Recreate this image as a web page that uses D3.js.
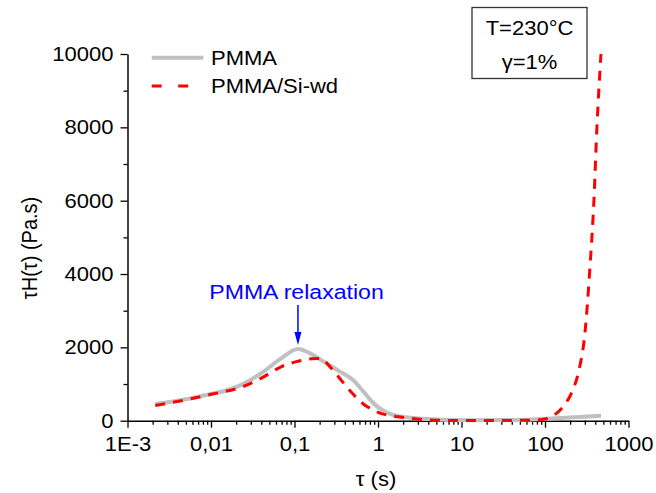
<!DOCTYPE html>
<html><head><meta charset="utf-8">
<script src="https://cdn.jsdelivr.net/npm/d3@7"></script>
<style>body{margin:0;background:#fff}svg text{font-family:"Liberation Sans",Arial,sans-serif}</style>
</head><body><svg id="c" width="656" height="493"></svg>
<script>
// ---- data ----
const xTicks = [0.001, 0.01, 0.1, 1, 10, 100, 1000];
const xTickLabels = ["1E-3", "0,01", "0,1", "1", "10", "100", "1000"];
const yTicks = [0, 2000, 4000, 6000, 8000, 10000];
const yMinorTicks = [1000, 3000, 5000, 7000, 9000];
const seriesNames = ["PMMA", "PMMA/Si-wd"];
const pmmaTau = [0.00215, 0.005, 0.01, 0.017, 0.023, 0.04, 0.07, 0.11, 0.15, 0.2, 0.35, 0.51, 0.67, 0.88, 1.16, 1.53, 2.2, 3.8, 7, 15, 30, 60, 100, 200, 470];
const pmmaVal = [455, 585, 730, 858, 976, 1296, 1706, 1953, 1850, 1680, 1340, 1094, 793, 476, 274, 156, 93, 46, 22, 15, 18, 28, 46, 90, 137];
const siTau = [0.00215, 0.005, 0.01, 0.023, 0.04, 0.07, 0.11, 0.16, 0.21, 0.254, 0.305, 0.42, 0.484, 0.667, 0.84, 1.39, 1.75, 3.18, 6, 15, 40, 80, 100, 130, 170, 210, 250, 301, 346, 386, 416, 468];
const siVal = [415, 570, 720, 913, 1160, 1477, 1620, 1690, 1700, 1523, 1313, 930, 766, 457, 312, 137, 109, 38, 10, 5, 8, 20, 45, 160, 420, 780, 1300, 2400, 4210, 6040, 7860, 10000];
const annText = "PMMA relaxation";
const annTau = 0.11;
const boxLines = ["T=230°C", "γ=1%"];
const xTitle = "τ (s)";
const yTitle = "τH(τ) (Pa.s)";

// ---- layout ----
const svg = d3.select("#c");
const SX = 1.1, FS = 20;
const x = d3.scaleLog().domain([0.001, 1000]).range([127.5, 628.5]);
const y = d3.scaleLinear().domain([0, 10000]).range([420.7, 54]);

function txt(g, s, px, py, anchor, opts = {}) {
  const t = g.append("text")
    .attr("transform", `translate(${px},${py}) scale(${SX},1)` + (opts.rot ? ` rotate(${opts.rot})` : ""))
    .attr("text-anchor", anchor)
    .attr("font-size", (opts.fs || FS) + "px")
    .attr("fill", opts.fill || "#000")
    .text(s);
  if (opts.dy) t.attr("dy", opts.dy);
  return t;
}

// axes
const xAxis = d3.axisBottom(x).tickValues(xTicks).tickFormat((d, i) => xTickLabels[i]).tickSize(7).tickPadding(9.5).tickSizeOuter(0);
const gx = svg.append("g").attr("transform", `translate(0,${y(0)})`).call(xAxis);
const minorX = [];
for (let k = -3; k < 3; k++) for (let m = 2; m <= 9; m++) minorX.push(m * Math.pow(10, k));
const xMinor = d3.axisBottom(x).tickValues(minorX).tickFormat("").tickSize(4).tickSizeOuter(0);
svg.append("g").attr("transform", `translate(0,${y(0)})`).call(xMinor).select(".domain").remove();

const yAxis = d3.axisLeft(y).tickValues(yTicks).tickFormat(d3.format("d")).tickSize(7).tickPadding(7).tickSizeOuter(0);
const gy = svg.append("g").attr("transform", `translate(${x(0.001)},0)`).call(yAxis);
const yMinor = d3.axisLeft(y).tickValues(yMinorTicks).tickFormat("").tickSize(4).tickSizeOuter(0);
svg.append("g").attr("transform", `translate(${x(0.001)},0)`).call(yMinor).select(".domain").remove();

svg.selectAll(".domain").attr("stroke", "#000").attr("stroke-width", 1.5);
svg.selectAll(".tick line").attr("stroke", "#000").attr("stroke-width", 1.3);
svg.selectAll(".tick text").attr("font-size", FS + "px").attr("fill", "#000")
  .attr("font-family", '"Liberation Sans",Arial,sans-serif')
  .attr("transform", `scale(${SX},1)`);
gy.selectAll(".tick text").attr("x", -14 / SX);

// axis titles
txt(svg, xTitle, 376, 486, "middle");
txt(svg, yTitle, 37, 248, "middle", { rot: -90 });

// lines
const line = d3.line().x(d => x(d[0])).y(d => y(d[1])).curve(d3.curveMonotoneX);
const pmma = pmmaTau.map((t, i) => [t, pmmaVal[i]]);
const si = siTau.map((t, i) => [t, siVal[i]]);
svg.append("path").datum(pmma).attr("d", line).attr("fill", "none").attr("stroke", "#c0c0c0").attr("stroke-width", 4);
svg.append("path").datum(si).attr("d", line).attr("fill", "none").attr("stroke", "#ff0000").attr("stroke-width", 3).attr("stroke-dasharray", "10,8");

// legend
const lg = svg.append("g");
lg.append("line").attr("x1", 151.7).attr("x2", 203.3).attr("y1", 57.7).attr("y2", 57.7).attr("stroke", "#c0c0c0").attr("stroke-width", 4);
lg.append("line").attr("x1", 151.7).attr("x2", 188.5).attr("y1", 86).attr("y2", 86).attr("stroke", "#ff0000").attr("stroke-width", 3).attr("stroke-dasharray", "10,16.5");
txt(lg, seriesNames[0], 211, 57.7, "start", { dy: "0.35em" });
txt(lg, seriesNames[1], 211, 86, "start", { dy: "0.35em" });

// box
svg.append("rect").attr("x", 472).attr("y", 7.5).attr("width", 115).attr("height", 71).attr("fill", "#fff").attr("stroke", "#333").attr("stroke-width", 1.3);
txt(svg, boxLines[0], 529.5, 27.5, "middle", { dy: "0.35em" });
txt(svg, boxLines[1], 529.5, 61.5, "middle", { dy: "0.35em" });

// annotation
const ax = x(annTau);
txt(svg, annText, 296.5, 299, "middle", { fill: "#0000ff", fs: 21 });
svg.append("line").attr("x1", ax).attr("x2", ax).attr("y1", 305).attr("y2", 335).attr("stroke", "#0000ff").attr("stroke-width", 1.5);
svg.append("path").attr("d", `M${ax - 3.5},${332} L${ax + 3.5},${332} L${ax},${345} Z`).attr("fill", "#0000ff");
</script></body></html>
